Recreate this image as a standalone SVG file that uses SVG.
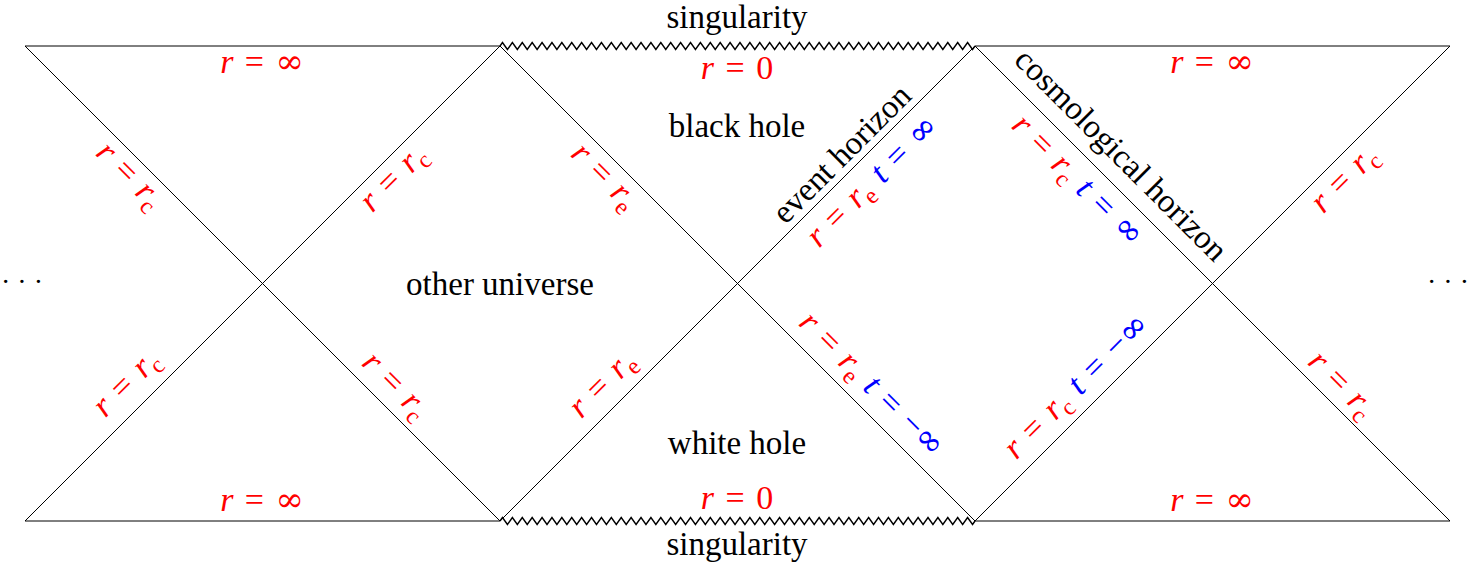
<svg xmlns="http://www.w3.org/2000/svg" width="1477" height="565" viewBox="0 0 1477 565">
<style>
.ln{stroke:#000;stroke-width:1;fill:none}
.zz{stroke:#000;stroke-width:1.4;fill:none;stroke-linejoin:miter}
.t{font-family:"Liberation Serif","Times New Roman",serif;font-size:33px;fill:#000}
.m{font-size:34px;word-spacing:3px}
.dots{font-size:28px}
.red{fill:#f00}
.blue{fill:#00f}
.mi{font-style:italic}
.sub{font-size:24px}
.inf{font-family:"DejaVu Serif",serif}
</style>
<defs>
<path id="zig" class="zz" d="M500,46 l2.474,-3.5
 4.948,7 4.948,-7 4.948,7 4.948,-7 4.948,7 4.948,-7 4.948,7 4.948,-7 4.948,7 4.948,-7
 4.948,7 4.948,-7 4.948,7 4.948,-7 4.948,7 4.948,-7 4.948,7 4.948,-7 4.948,7 4.948,-7
 4.948,7 4.948,-7 4.948,7 4.948,-7 4.948,7 4.948,-7 4.948,7 4.948,-7 4.948,7 4.948,-7
 4.948,7 4.948,-7 4.948,7 4.948,-7 4.948,7 4.948,-7 4.948,7 4.948,-7 4.948,7 4.948,-7
 4.948,7 4.948,-7 4.948,7 4.948,-7 4.948,7 4.948,-7 4.948,7 4.948,-7 4.948,7 4.948,-7
 4.948,7 4.948,-7 4.948,7 4.948,-7 4.948,7 4.948,-7 4.948,7 4.948,-7 4.948,7 4.948,-7
 4.948,7 4.948,-7 4.948,7 4.948,-7 4.948,7 4.948,-7 4.948,7 4.948,-7 4.948,7 4.948,-7
 4.948,7 4.948,-7 4.948,7 4.948,-7 4.948,7 4.948,-7 4.948,7 4.948,-7 4.948,7 4.948,-7
 4.948,7 4.948,-7 4.948,7 4.948,-7 4.948,7 4.948,-7 4.948,7 4.948,-7 4.948,7 4.948,-7
 4.948,7 4.948,-7 4.948,7 4.948,-7 4.948,7 2.474,-3.5"/>
</defs>
<rect width="1477" height="565" fill="#fff"/>
<g id="connectors">
<line class="ln" x1="25" y1="46" x2="500" y2="46"/>
<line class="ln" x1="975" y1="46" x2="1450" y2="46"/>
<line class="ln" x1="25" y1="521" x2="500" y2="521"/>
<line class="ln" x1="975" y1="521" x2="1450" y2="521"/>
<use href="#zig"/>
<use href="#zig" transform="translate(0,475)"/>
<line class="ln" x1="25" y1="46" x2="500" y2="521"/>
<line class="ln" x1="500" y1="46" x2="25" y2="521"/>
<line class="ln" x1="500" y1="46" x2="975" y2="521"/>
<line class="ln" x1="975" y1="46" x2="500" y2="521"/>
<line class="ln" x1="975" y1="46" x2="1450" y2="521"/>
<line class="ln" x1="1450" y1="46" x2="975" y2="521"/>
</g>
<g id="labels-horizontal">
<text class="t" x="737" y="28" text-anchor="middle">singularity</text>
<text class="t" x="737" y="555" text-anchor="middle">singularity</text>
<text class="t m red" x="737" y="79" text-anchor="middle"><tspan class="mi">r</tspan> = 0</text>
<text class="t m red" x="737" y="509" text-anchor="middle"><tspan class="mi">r</tspan> = 0</text>
<text class="t m red" x="262" y="73" text-anchor="middle"><tspan class="mi">r</tspan> = <tspan class="inf">∞</tspan></text>
<text class="t m red" x="262" y="511" text-anchor="middle"><tspan class="mi">r</tspan> = <tspan class="inf">∞</tspan></text>
<text class="t m red" x="1212" y="73" text-anchor="middle"><tspan class="mi">r</tspan> = <tspan class="inf">∞</tspan></text>
<text class="t m red" x="1212" y="511" text-anchor="middle"><tspan class="mi">r</tspan> = <tspan class="inf">∞</tspan></text>
<text class="t" x="737" y="137" text-anchor="middle">black hole</text>
<text class="t" x="737" y="454" text-anchor="middle">white hole</text>
<text class="t" x="500" y="295" text-anchor="middle">other universe</text>
<text class="t dots" x="22" y="291" text-anchor="middle">· · ·</text>
<text class="t dots" x="1448" y="291" text-anchor="middle">· · ·</text>
</g>
<g id="labels-diagonal">
<g transform="translate(129,176) rotate(45)"><text class="t m red" y="9" text-anchor="middle"><tspan class="mi">r</tspan> = <tspan class="mi">r</tspan><tspan class="sub" dy="7">c</tspan></text></g>
<g transform="translate(394,179) rotate(-45)"><text class="t m red" y="9" text-anchor="middle"><tspan class="mi">r</tspan> = <tspan class="mi">r</tspan><tspan class="sub" dy="7">c</tspan></text></g>
<g transform="translate(604,177) rotate(45)"><text class="t m red" y="9" text-anchor="middle"><tspan class="mi">r</tspan> = <tspan class="mi">r</tspan><tspan class="sub" dy="7">e</tspan></text></g>
<g transform="translate(127,384) rotate(-45)"><text class="t m red" y="9" text-anchor="middle"><tspan class="mi">r</tspan> = <tspan class="mi">r</tspan><tspan class="sub" dy="7">c</tspan></text></g>
<g transform="translate(395,386) rotate(45)"><text class="t m red" y="9" text-anchor="middle"><tspan class="mi">r</tspan> = <tspan class="mi">r</tspan><tspan class="sub" dy="7">c</tspan></text></g>
<g transform="translate(603,385) rotate(-45)"><text class="t m red" y="9" text-anchor="middle"><tspan class="mi">r</tspan> = <tspan class="mi">r</tspan><tspan class="sub" dy="7">e</tspan></text></g>
<g transform="translate(1345,180) rotate(-45)"><text class="t m red" y="9" text-anchor="middle"><tspan class="mi">r</tspan> = <tspan class="mi">r</tspan><tspan class="sub" dy="7">c</tspan></text></g>
<g transform="translate(1341,385) rotate(45)"><text class="t m red" y="9" text-anchor="middle"><tspan class="mi">r</tspan> = <tspan class="mi">r</tspan><tspan class="sub" dy="7">c</tspan></text></g>
<g transform="translate(843,155) rotate(-45)"><text class="t" y="9" text-anchor="middle">event horizon</text></g>
<g transform="translate(1120,156) rotate(45)"><text class="t" y="9" text-anchor="middle">cosmological horizon</text></g>
<g transform="translate(873,182) rotate(-45)"><text class="t m red" y="9" text-anchor="middle"><tspan class="mi">r</tspan> = <tspan class="mi">r</tspan><tspan class="sub" dy="7">e</tspan><tspan class="blue" dy="-7"> <tspan class="mi">t</tspan> = <tspan class="inf">∞</tspan></tspan></text></g>
<g transform="translate(871,385) rotate(45)"><text class="t m red" y="9" text-anchor="middle"><tspan class="mi">r</tspan> = <tspan class="mi">r</tspan><tspan class="sub" dy="7">e</tspan><tspan class="blue" dy="-7"> <tspan class="mi">t</tspan> = −<tspan class="inf">∞</tspan></tspan></text></g>
<g transform="translate(1077,181) rotate(45)"><text class="t m red" y="9" text-anchor="middle"><tspan class="mi">r</tspan> = <tspan class="mi">r</tspan><tspan class="sub" dy="7">c</tspan><tspan class="blue" dy="-7"> <tspan class="mi">t</tspan> = <tspan class="inf">∞</tspan></tspan></text></g>
<g transform="translate(1077,387) rotate(-45)"><text class="t m red" y="9" text-anchor="middle"><tspan class="mi">r</tspan> = <tspan class="mi">r</tspan><tspan class="sub" dy="7">c</tspan><tspan class="blue" dy="-7"> <tspan class="mi">t</tspan> = −<tspan class="inf">∞</tspan></tspan></text></g>
</g>
</svg>
